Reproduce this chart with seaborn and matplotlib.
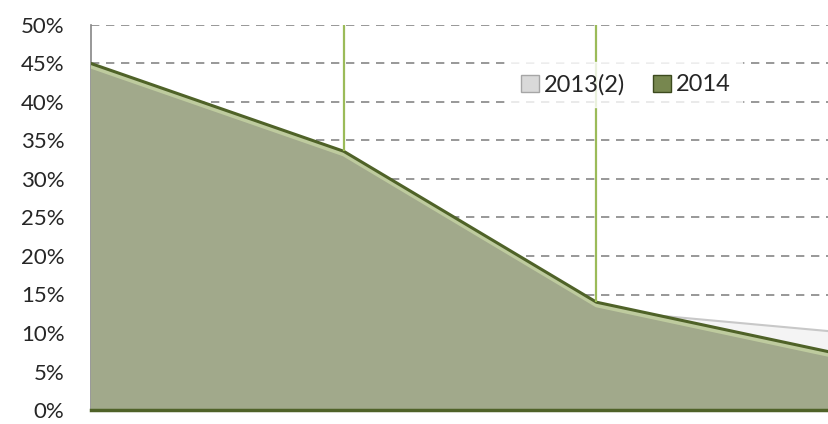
import matplotlib
matplotlib.use("Agg")
import matplotlib.pyplot as plt
import matplotlib.transforms as mtransforms
from matplotlib.patches import Patch
import seaborn as sns
import pandas as pd

# data (fractions); last category is clipped at the right edge
steps = [0, 1, 2, 3]
s2013 = [0.44, 0.33, 0.13, 0.10]
s2014 = [0.45, 0.336, 0.14, 0.07]
labels = ["2013(2)", "2014"]
yticks = [i * 0.05 for i in range(11)]

sns.set_theme(style="white")
plt.rcParams['font.family'] = ['Lato', 'DejaVu Sans']

df = pd.DataFrame({"step": steps, "2013(2)": s2013, "2014": s2014})

fig = plt.figure(figsize=(8.29, 4.24), dpi=100)
ax = fig.add_axes([91/829, 14/424, 738/829, 385/424])

# dashed grid
for y in yticks[1:]:
	ax.axhline(y, color="#868686", lw=1.2, ls=(0, (5, 4)), zorder=0)

# 2013(2) area
ax.fill_between(df["step"], df["2013(2)"], color="#f4f4f4", zorder=1)
sns.lineplot(data=df, x="step", y="2013(2)", ax=ax, color="#c8c8c8", lw=1.5, zorder=2)

# 2014 area
ax.fill_between(df["step"], df["2014"], color="#a1a98b", zorder=3)
shift = mtransforms.offset_copy(ax.transData, fig=fig, x=0, y=-3, units="dots")
ax.plot(df["step"], df["2014"], color="#c6d4a4", lw=3, transform=shift, zorder=4, alpha=0.8)
sns.lineplot(data=df, x="step", y="2014", ax=ax, color="#4f6228", lw=2.2, zorder=5)

# green lines from series point up to the top at the middle categories
ax.vlines(df["step"][1:3], df["2014"][1:3], 0.5, color="#9bbb59", lw=1.6, zorder=6)

ax.set_xlim(0, 2.92)
ax.set_ylim(0, 0.5)
ax.set_yticks(yticks)
ax.set_yticklabels([f"{int(round(v*100))}%" for v in yticks], fontsize=16)
ax.set_xticks([])
ax.set_xlabel("")
ax.set_ylabel("")
ax.tick_params(axis="y", length=0, pad=19)

for side in ["top", "right"]:
	ax.spines[side].set_visible(False)
ax.spines["left"].set_color("#868686")
ax.spines["left"].set_linewidth(1.2)
ax.spines["bottom"].set_color("#4f6228")
ax.spines["bottom"].set_linewidth(2.5)
ax.spines["bottom"].set_zorder(7)

handles = [Patch(facecolor="#d9d9d9", edgecolor="#a6a6a6"),
	Patch(facecolor="#77874f", edgecolor="#3c4a1e")]
leg = ax.legend(handles, labels, loc="center", bbox_to_anchor=(0.725, 0.845),
	ncol=2, frameon=True, fontsize=17, handlelength=0.75, handleheight=0.75,
	handletextpad=0.2, columnspacing=1.2, borderpad=0.5, fancybox=False)
leg.get_frame().set_facecolor("white")
leg.get_frame().set_edgecolor("white")
leg.set_zorder(8)

fig.savefig("out.png", dpi=100)
